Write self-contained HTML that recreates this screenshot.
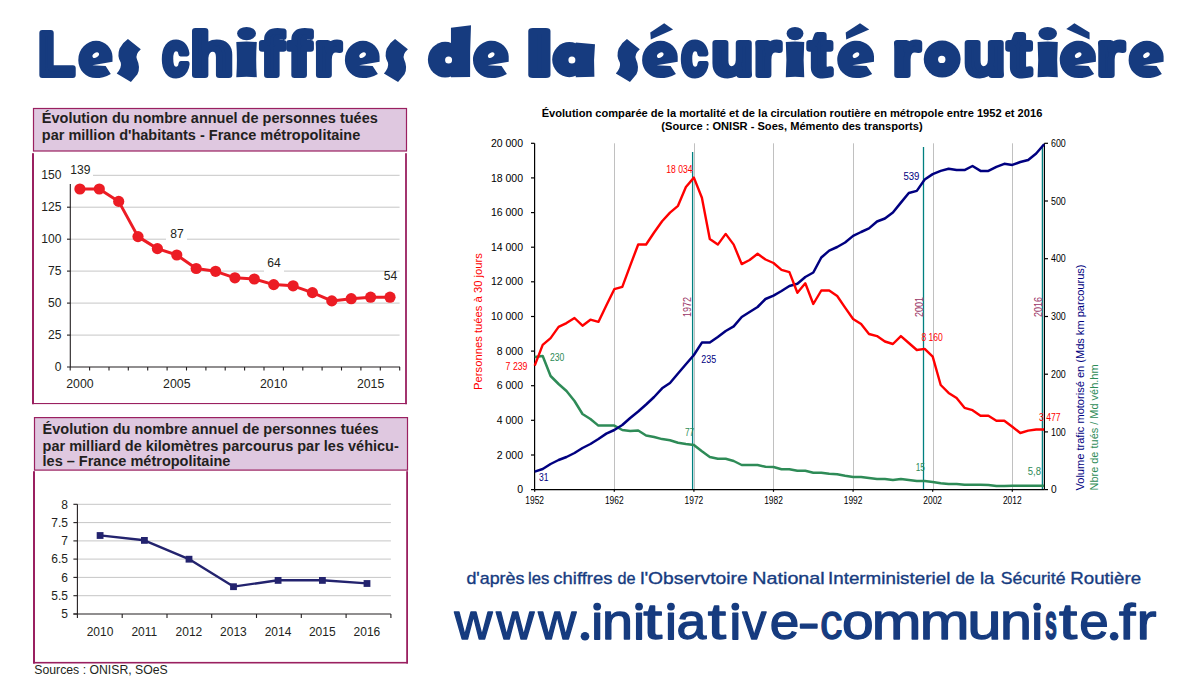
<!DOCTYPE html><html><head><meta charset="utf-8"><style>html,body{margin:0;padding:0;background:#fff;width:1200px;height:700px;overflow:hidden}svg{display:block}</style></head><body>
<svg width="1200" height="700" viewBox="0 0 1200 700" style="font-family:'Liberation Sans',sans-serif">
<rect width="1200" height="700" fill="#fff"/>
<g fill="#163b7f" stroke="#163b7f" stroke-width="6.0" stroke-linejoin="round" font-weight="bold" font-size="62">
<text x="38.20" y="74.50" textLength="36.44" lengthAdjust="spacingAndGlyphs">L</text>
<text x="162.15" y="74.50" textLength="26.44" lengthAdjust="spacingAndGlyphs">c</text>
<text x="190.50" y="74.50" textLength="42.72" lengthAdjust="spacingAndGlyphs">h</text>
<text x="261.07" y="74.50" textLength="22.20" lengthAdjust="spacingAndGlyphs">f</text>
<text x="288.26" y="74.50" textLength="22.31" lengthAdjust="spacingAndGlyphs">f</text>
<text x="314.42" y="74.50" textLength="26.41" lengthAdjust="spacingAndGlyphs">r</text>
<text x="526.36" y="74.50" textLength="26.36" lengthAdjust="spacingAndGlyphs">l</text>
<text x="681.15" y="74.50" textLength="26.44" lengthAdjust="spacingAndGlyphs">c</text>
<text x="711.51" y="74.50" textLength="41.73" lengthAdjust="spacingAndGlyphs">u</text>
<text x="754.00" y="74.50" textLength="26.53" lengthAdjust="spacingAndGlyphs">r</text>
<text x="808.68" y="74.50" textLength="22.63" lengthAdjust="spacingAndGlyphs">t</text>
<text x="892.79" y="74.50" textLength="27.17" lengthAdjust="spacingAndGlyphs">r</text>
<text x="963.80" y="74.50" textLength="41.42" lengthAdjust="spacingAndGlyphs">u</text>
<text x="1007.77" y="74.50" textLength="23.17" lengthAdjust="spacingAndGlyphs">t</text>
<text x="1096.67" y="74.50" textLength="27.29" lengthAdjust="spacingAndGlyphs">r</text>
</g>
<g fill="#163b7f">
<path d="M127.91 39.00 L140.80 49.32 Q135.02 54.48 136.94 59.21 Q140.80 67.38 137.43 74.26 L130.92 82.00 L116.70 73.40 Q122.00 67.38 120.80 62.65 Q116.70 56.20 119.59 48.46 Q122.73 42.44 127.91 39.00 Z"/>
<path d="M395.06 39.00 L407.90 49.32 Q402.14 54.48 404.06 59.21 Q407.90 67.38 404.54 74.26 L398.06 82.00 L383.90 73.40 Q389.18 67.38 387.98 62.65 Q383.90 56.20 386.78 48.46 Q389.90 42.44 395.06 39.00 Z"/>
<path d="M626.96 39.00 L639.80 49.32 Q634.04 54.48 635.96 59.21 Q639.80 67.38 636.44 74.26 L629.96 82.00 L615.80 73.40 Q621.08 67.38 619.88 62.65 Q615.80 56.20 618.68 48.46 Q621.80 42.44 626.96 39.00 Z"/>
<ellipse cx="445.14" cy="59.7" rx="17.24" ry="17.9"/>
<path d="M450.96 27.7 L471.00 25.3 Q469.80 50 470.10 76.9 L450.96 77.3 Z"/>
<ellipse cx="569.32" cy="59.6" rx="17.12" ry="17.6"/>
<path d="M575.74 42.6 L595.00 44.3 Q593.40 60 594.40 76.8 L575.74 77.2 Z"/>
<ellipse cx="942.17" cy="59.1" rx="18.43" ry="18.5"/>
<path d="M112.50 61.63 L92.32 65.17 L105.66 66.10 L110.79 73.91 C105.66 77.26 100.53 78.00 96.08 78.00 C85.82 78.00 78.30 69.82 78.30 60.14 C78.30 48.98 86.85 40.80 96.08 40.80 C105.66 40.80 112.50 48.98 112.50 56.42 Z"/>
<path d="M379.60 61.63 L359.13 65.17 L372.66 66.10 L377.87 73.91 C372.66 77.26 367.45 78.00 362.94 78.00 C352.53 78.00 344.90 69.82 344.90 60.14 C344.90 48.98 353.57 40.80 362.94 40.80 C372.66 40.80 379.60 48.98 379.60 56.42 Z"/>
<path d="M508.70 61.63 L487.64 65.17 L501.56 66.10 L506.91 73.91 C501.56 77.26 496.20 78.00 491.56 78.00 C480.85 78.00 473.00 69.82 473.00 60.14 C473.00 48.98 481.93 40.80 491.56 40.80 C501.56 40.80 508.70 48.98 508.70 56.42 Z"/>
<path d="M677.70 61.63 L656.70 65.17 L670.58 66.10 L675.92 73.91 C670.58 77.26 665.24 78.00 660.61 78.00 C649.93 78.00 642.10 69.82 642.10 60.14 C642.10 48.98 651.00 40.80 660.61 40.80 C670.58 40.80 677.70 48.98 677.70 56.42 Z"/>
<path d="M650.29 32.50 L664.17 23.20 L673.07 29.60 L650.82 39.50Z"/>
<path d="M874.00 61.63 L852.32 65.17 L866.65 66.10 L872.16 73.91 C866.65 77.26 861.14 78.00 856.36 78.00 C845.34 78.00 837.25 69.82 837.25 60.14 C837.25 48.98 846.44 40.80 856.36 40.80 C866.65 40.80 874.00 48.98 874.00 56.42 Z"/>
<path d="M845.70 32.50 L860.03 23.20 L869.22 29.60 L846.25 39.50Z"/>
<path d="M1095.90 61.63 L1074.57 65.17 L1088.67 66.10 L1094.09 73.91 C1088.67 77.26 1083.25 78.00 1078.55 78.00 C1067.70 78.00 1059.75 69.82 1059.75 60.14 C1059.75 48.98 1068.79 40.80 1078.55 40.80 C1088.67 40.80 1095.90 48.98 1095.90 56.42 Z"/>
<path d="M1066.26 29.00 L1074.39 23.20 L1089.57 32.50 L1089.57 39.50Z"/>
<path d="M1163.60 61.63 L1142.95 65.17 L1156.60 66.10 L1161.85 73.91 C1156.60 77.26 1151.35 78.00 1146.80 78.00 C1136.30 78.00 1128.60 69.82 1128.60 60.14 C1128.60 48.98 1137.35 40.80 1146.80 40.80 C1156.60 40.80 1163.60 48.98 1163.60 56.42 Z"/>
<path d="M236.30 42 Q246.55 41 256.80 42 Q255.60 59.5 256.80 77.3 Q246.55 76.3 236.30 77.3 Q237.50 59.5 236.30 42Z"/>
<ellipse cx="246.55" cy="33.6" rx="9.45" ry="6.7"/>
<path d="M785.80 42 Q795.02 41 804.25 42 Q803.05 59.5 804.25 77.3 Q795.02 76.3 785.80 77.3 Q787.00 59.5 785.80 42Z"/>
<ellipse cx="795.02" cy="33.6" rx="8.43" ry="6.7"/>
<path d="M1037.60 42 Q1047.70 41 1057.80 42 Q1056.60 59.5 1057.80 77.3 Q1047.70 76.3 1037.60 77.3 Q1038.80 59.5 1037.60 42Z"/>
<ellipse cx="1047.70" cy="33.6" rx="9.30" ry="6.7"/>
</g>
<g fill="#fff">
<circle cx="448.59" cy="60.10" r="3.50"/>
<circle cx="571.89" cy="60.10" r="3.50"/>
<circle cx="941.77" cy="59.40" r="3.70"/>
<ellipse cx="95.74" cy="55.12" rx="3.6" ry="2.3" transform="rotate(-35 95.74 55.12)"/>
<ellipse cx="362.60" cy="55.12" rx="3.6" ry="2.3" transform="rotate(-35 362.60 55.12)"/>
<ellipse cx="491.21" cy="55.12" rx="3.6" ry="2.3" transform="rotate(-35 491.21 55.12)"/>
<ellipse cx="660.26" cy="55.12" rx="3.6" ry="2.3" transform="rotate(-35 660.26 55.12)"/>
<ellipse cx="855.99" cy="55.12" rx="3.6" ry="2.3" transform="rotate(-35 855.99 55.12)"/>
<ellipse cx="1078.19" cy="55.12" rx="3.6" ry="2.3" transform="rotate(-35 1078.19 55.12)"/>
<ellipse cx="1146.45" cy="55.12" rx="3.6" ry="2.3" transform="rotate(-35 1146.45 55.12)"/>
</g>
<rect x="33.5" y="108.5" width="373" height="42.5" fill="#dfc8e0" stroke="#9a2060" stroke-width="1.2"/>
<g font-weight="bold" font-size="14.5" fill="#231f20">
<text x="41.8" y="123">Évolution du nombre annuel de personnes tuées</text>
<text x="41.8" y="139.6">par million d'habitants - France métropolitaine</text>
</g>
<g fill="#9a2060"><rect x="32" y="153.2" width="2" height="251"/><rect x="32" y="403" width="375" height="1.1"/><rect x="405.1" y="153.2" width="1.8" height="251"/></g>
<g stroke="#c6c6c6" stroke-width="1">
<line x1="70.2" x2="399.6" y1="175.3" y2="175.3"/>
<line x1="70.2" x2="399.6" y1="207.2" y2="207.2"/>
<line x1="70.2" x2="399.6" y1="239.2" y2="239.2"/>
<line x1="70.2" x2="399.6" y1="271.1" y2="271.1"/>
<line x1="70.2" x2="399.6" y1="303.1" y2="303.1"/>
<line x1="70.2" x2="399.6" y1="335.1" y2="335.1"/>
</g>
<g stroke="#231f20" stroke-width="1.1">
<line x1="70.3" x2="70.3" y1="175.3" y2="367"/>
<line x1="67" x2="400" y1="367" y2="367"/>
<line x1="67" x2="70.3" y1="175.3" y2="175.3"/>
<line x1="67" x2="70.3" y1="207.2" y2="207.2"/>
<line x1="67" x2="70.3" y1="239.2" y2="239.2"/>
<line x1="67" x2="70.3" y1="271.1" y2="271.1"/>
<line x1="67" x2="70.3" y1="303.1" y2="303.1"/>
<line x1="67" x2="70.3" y1="335.1" y2="335.1"/>
<line x1="70.2" x2="70.2" y1="367" y2="370.5"/>
<line x1="89.6" x2="89.6" y1="367" y2="370.5"/>
<line x1="109.0" x2="109.0" y1="367" y2="370.5"/>
<line x1="128.3" x2="128.3" y1="367" y2="370.5"/>
<line x1="147.7" x2="147.7" y1="367" y2="370.5"/>
<line x1="167.1" x2="167.1" y1="367" y2="370.5"/>
<line x1="186.5" x2="186.5" y1="367" y2="370.5"/>
<line x1="205.9" x2="205.9" y1="367" y2="370.5"/>
<line x1="225.2" x2="225.2" y1="367" y2="370.5"/>
<line x1="244.6" x2="244.6" y1="367" y2="370.5"/>
<line x1="264.0" x2="264.0" y1="367" y2="370.5"/>
<line x1="283.4" x2="283.4" y1="367" y2="370.5"/>
<line x1="302.8" x2="302.8" y1="367" y2="370.5"/>
<line x1="322.1" x2="322.1" y1="367" y2="370.5"/>
<line x1="341.5" x2="341.5" y1="367" y2="370.5"/>
<line x1="360.9" x2="360.9" y1="367" y2="370.5"/>
<line x1="380.3" x2="380.3" y1="367" y2="370.5"/>
<line x1="399.7" x2="399.7" y1="367" y2="370.5"/>
</g>
<g font-size="12.1" fill="#231f20" text-anchor="end">
<text x="61.5" y="179.4">150</text>
<text x="61.5" y="211.3">125</text>
<text x="61.5" y="243.3">100</text>
<text x="61.5" y="275.2">75</text>
<text x="61.5" y="307.2">50</text>
<text x="61.5" y="339.2">25</text>
<text x="61.5" y="371.1">0</text>
</g>
<g font-size="12.3" fill="#231f20" text-anchor="middle">
<text x="79.9" y="388">2000</text>
<text x="176.8" y="388">2005</text>
<text x="273.7" y="388">2010</text>
<text x="370.6" y="388">2015</text>
</g>
<rect x="66" y="160" width="27" height="24" fill="#fff"/>
<rect x="166" y="225" width="21" height="19" fill="#fff"/>
<rect x="264" y="258" width="20" height="18" fill="#fff"/>
<polyline points="79.9,189.0 99.3,189.0 118.7,201.4 138.0,236.6 157.4,248.6 176.8,255.0 196.2,268.5 215.6,271.3 234.9,277.8 254.3,279.0 273.7,284.6 293.1,285.8 312.4,292.6 331.8,300.9 351.2,298.7 370.6,297.2 390.0,297.2" fill="none" stroke="#ec1c24" stroke-width="3" stroke-linejoin="round"/>
<g fill="#ec1c24">
<circle cx="79.9" cy="189.0" r="5.6"/>
<circle cx="99.3" cy="189.0" r="5.6"/>
<circle cx="118.7" cy="201.4" r="5.6"/>
<circle cx="138.0" cy="236.6" r="5.6"/>
<circle cx="157.4" cy="248.6" r="5.6"/>
<circle cx="176.8" cy="255.0" r="5.6"/>
<circle cx="196.2" cy="268.5" r="5.6"/>
<circle cx="215.6" cy="271.3" r="5.6"/>
<circle cx="234.9" cy="277.8" r="5.6"/>
<circle cx="254.3" cy="279.0" r="5.6"/>
<circle cx="273.7" cy="284.6" r="5.6"/>
<circle cx="293.1" cy="285.8" r="5.6"/>
<circle cx="312.4" cy="292.6" r="5.6"/>
<circle cx="331.8" cy="300.9" r="5.6"/>
<circle cx="351.2" cy="298.7" r="5.6"/>
<circle cx="370.6" cy="297.2" r="5.6"/>
<circle cx="390.0" cy="297.2" r="5.6"/>
</g>
<g font-size="12.1" fill="#231f20" text-anchor="middle">
<text x="80.4" y="173.7">139</text>
<text x="177" y="237.9">87</text>
<text x="274" y="267">64</text>
<text x="390.6" y="279.8">54</text>
</g>
<rect x="34.5" y="417.6" width="373" height="52.5" fill="#dfc8e0" stroke="#9a2060" stroke-width="1.2"/>
<g font-weight="bold" font-size="14.5" fill="#231f20">
<text x="42.6" y="433.5">Évolution du nombre annuel de personnes tuées</text>
<text x="42.6" y="450.5">par milliard de kilomètres parcourus par les véhicu-</text>
<text x="42.6" y="465.8">les – France métropolitaine</text>
</g>
<g fill="#9a2060"><rect x="33" y="471.2" width="2" height="192.3"/><rect x="33" y="661.9" width="375" height="1.6"/><rect x="406.2" y="471.2" width="1.8" height="192.3"/></g>
<g stroke="#c6c6c6" stroke-width="1">
<line x1="77.4" x2="390.9" y1="595.7" y2="595.7"/>
<line x1="77.4" x2="390.9" y1="577.4" y2="577.4"/>
<line x1="77.4" x2="390.9" y1="559.1" y2="559.1"/>
<line x1="77.4" x2="390.9" y1="540.9" y2="540.9"/>
<line x1="77.4" x2="390.9" y1="522.6" y2="522.6"/>
<line x1="77.4" x2="390.9" y1="504.3" y2="504.3"/>
</g>
<g stroke="#231f20" stroke-width="1.1">
<line x1="77.4" x2="77.4" y1="504.3" y2="614"/>
<line x1="73.4" x2="390.9" y1="614" y2="614"/>
<line x1="73.4" x2="77.4" y1="614.0" y2="614.0"/>
<line x1="73.4" x2="77.4" y1="595.7" y2="595.7"/>
<line x1="73.4" x2="77.4" y1="577.4" y2="577.4"/>
<line x1="73.4" x2="77.4" y1="559.1" y2="559.1"/>
<line x1="73.4" x2="77.4" y1="540.9" y2="540.9"/>
<line x1="73.4" x2="77.4" y1="522.6" y2="522.6"/>
<line x1="73.4" x2="77.4" y1="504.3" y2="504.3"/>
<line x1="77.4" x2="77.4" y1="614" y2="618"/>
<line x1="122.2" x2="122.2" y1="614" y2="618"/>
<line x1="167.0" x2="167.0" y1="614" y2="618"/>
<line x1="211.7" x2="211.7" y1="614" y2="618"/>
<line x1="256.5" x2="256.5" y1="614" y2="618"/>
<line x1="301.3" x2="301.3" y1="614" y2="618"/>
<line x1="346.1" x2="346.1" y1="614" y2="618"/>
<line x1="390.9" x2="390.9" y1="614" y2="618"/>
</g>
<g font-size="12" fill="#231f20" text-anchor="end">
<text x="68" y="508.5">8</text>
<text x="68" y="526.8">7.5</text>
<text x="68" y="545.1">7</text>
<text x="68" y="563.3">6.5</text>
<text x="68" y="581.6">6</text>
<text x="68" y="599.9">5.5</text>
<text x="68" y="618.2">5</text>
</g>
<g font-size="12" fill="#231f20" text-anchor="middle">
<text x="100.0" y="635.7">2010</text>
<text x="144.3" y="635.7">2011</text>
<text x="188.9" y="635.7">2012</text>
<text x="233.4" y="635.7">2013</text>
<text x="278.0" y="635.7">2014</text>
<text x="322.3" y="635.7">2015</text>
<text x="366.9" y="635.7">2016</text>
</g>
<polyline points="100.0,535.4 144.3,540.3 188.9,559.1 233.4,586.6 278.0,580.3 322.3,580.3 366.9,583.4" fill="none" stroke="#23236e" stroke-width="2.4" stroke-linejoin="round"/>
<g fill="#23236e">
<rect x="96.7" y="532.1" width="6.8" height="6.8"/>
<rect x="141.0" y="537.0" width="6.8" height="6.8"/>
<rect x="185.6" y="555.8" width="6.8" height="6.8"/>
<rect x="230.1" y="583.3" width="6.8" height="6.8"/>
<rect x="274.7" y="577.0" width="6.8" height="6.8"/>
<rect x="319.0" y="577.0" width="6.8" height="6.8"/>
<rect x="363.6" y="580.1" width="6.8" height="6.8"/>
</g>
<text x="34.3" y="673.8" font-size="12.25" fill="#231f20">Sources : ONISR, SOeS</text>
<g font-weight="bold" font-size="11.1" fill="#000" text-anchor="middle">
<text x="792" y="117">Évolution comparée de la mortalité et de la circulation routière en métropole entre 1952 et 2016</text>
<text x="792" y="130">(Source : ONISR - Soes, Mémento des transports)</text>
</g>
<g stroke="#c0c0c0" stroke-width="1">
<line x1="614.5" x2="614.5" y1="143.3" y2="489.6"/>
<line x1="694.5" x2="694.5" y1="143.3" y2="489.6"/>
<line x1="773.5" x2="773.5" y1="143.3" y2="489.6"/>
<line x1="853.5" x2="853.5" y1="143.3" y2="489.6"/>
<line x1="933.5" x2="933.5" y1="143.3" y2="489.6"/>
<line x1="1012.5" x2="1012.5" y1="143.3" y2="489.6"/>
</g>
<g stroke="#008080" stroke-width="1.3">
<line x1="692.6" x2="692.6" y1="152" y2="489.6"/>
<line x1="923.5" x2="923.5" y1="147" y2="489.6"/>
<line x1="1042.4" x2="1042.4" y1="147" y2="489.6"/>
</g>
<g stroke="#000" stroke-width="1.2">
<line x1="534.6" x2="534.6" y1="143.3" y2="489.6"/>
<line x1="1044.4" x2="1044.4" y1="143.3" y2="489.6"/>
<line x1="534.6" x2="1044.4" y1="489.6" y2="489.6"/>
<line x1="531" x2="534.5" y1="143.3" y2="143.3"/>
<line x1="531" x2="534.5" y1="177.9" y2="177.9"/>
<line x1="531" x2="534.5" y1="212.6" y2="212.6"/>
<line x1="531" x2="534.5" y1="247.2" y2="247.2"/>
<line x1="531" x2="534.5" y1="281.8" y2="281.8"/>
<line x1="531" x2="534.5" y1="316.5" y2="316.5"/>
<line x1="531" x2="534.5" y1="351.1" y2="351.1"/>
<line x1="531" x2="534.5" y1="385.7" y2="385.7"/>
<line x1="531" x2="534.5" y1="420.3" y2="420.3"/>
<line x1="531" x2="534.5" y1="455.0" y2="455.0"/>
<line x1="531" x2="534.5" y1="489.6" y2="489.6"/>
<line x1="1044.4" x2="1048" y1="143.3" y2="143.3"/>
<line x1="1044.4" x2="1048" y1="201.0" y2="201.0"/>
<line x1="1044.4" x2="1048" y1="258.7" y2="258.7"/>
<line x1="1044.4" x2="1048" y1="316.5" y2="316.5"/>
<line x1="1044.4" x2="1048" y1="374.2" y2="374.2"/>
<line x1="1044.4" x2="1048" y1="431.9" y2="431.9"/>
<line x1="1044.4" x2="1048" y1="489.6" y2="489.6"/>
<line x1="534.7" x2="534.7" y1="489.6" y2="491.8"/>
<line x1="614.3" x2="614.3" y1="489.6" y2="491.8"/>
<line x1="693.9" x2="693.9" y1="489.6" y2="491.8"/>
<line x1="773.5" x2="773.5" y1="489.6" y2="491.8"/>
<line x1="853.1" x2="853.1" y1="489.6" y2="491.8"/>
<line x1="932.7" x2="932.7" y1="489.6" y2="491.8"/>
<line x1="1012.3" x2="1012.3" y1="489.6" y2="491.8"/>
</g>
<g font-size="10.5" fill="#000" text-anchor="end">
<text x="523" y="146.9">20 000</text>
<text x="523" y="181.5">18 000</text>
<text x="523" y="216.2">16 000</text>
<text x="523" y="250.8">14 000</text>
<text x="523" y="285.4">12 000</text>
<text x="523" y="320.1">10 000</text>
<text x="523" y="354.7">8 000</text>
<text x="523" y="389.3">6 000</text>
<text x="523" y="423.9">4 000</text>
<text x="523" y="458.6">2 000</text>
<text x="523" y="493.2">0</text>
</g>
<g font-size="10.2" fill="#000">
<text x="1051" y="146.9" textLength="14.8" lengthAdjust="spacingAndGlyphs">600</text>
<text x="1051" y="204.6" textLength="14.8" lengthAdjust="spacingAndGlyphs">500</text>
<text x="1051" y="262.3" textLength="14.8" lengthAdjust="spacingAndGlyphs">400</text>
<text x="1051" y="320.1" textLength="14.8" lengthAdjust="spacingAndGlyphs">300</text>
<text x="1051" y="377.8" textLength="14.8" lengthAdjust="spacingAndGlyphs">200</text>
<text x="1051" y="435.5" textLength="14.8" lengthAdjust="spacingAndGlyphs">100</text>
<text x="1051" y="493.2">0</text>
</g>
<g font-size="10" fill="#000" text-anchor="middle">
<text x="534.7" y="504.2" textLength="18.7" lengthAdjust="spacingAndGlyphs">1952</text>
<text x="614.3" y="504.2" textLength="18.7" lengthAdjust="spacingAndGlyphs">1962</text>
<text x="693.9" y="504.2" textLength="18.7" lengthAdjust="spacingAndGlyphs">1972</text>
<text x="773.5" y="504.2" textLength="18.7" lengthAdjust="spacingAndGlyphs">1982</text>
<text x="853.1" y="504.2" textLength="18.7" lengthAdjust="spacingAndGlyphs">1992</text>
<text x="932.7" y="504.2" textLength="18.7" lengthAdjust="spacingAndGlyphs">2002</text>
<text x="1012.3" y="504.2" textLength="18.7" lengthAdjust="spacingAndGlyphs">2012</text>
</g>
<polyline points="534.7,357.0 542.7,356.0 550.6,376.0 558.6,384.0 566.5,391.0 574.5,401.0 582.5,414.0 590.4,419.0 598.4,425.6 606.3,425.6 614.3,425.6 622.3,430.0 630.2,431.0 638.2,430.5 646.1,435.5 654.1,437.0 662.1,439.1 670.0,440.3 678.0,442.8 685.9,444.0 693.9,445.0 701.9,451.3 709.8,457.0 717.8,458.8 725.7,458.8 733.7,461.0 741.7,465.0 749.6,465.0 757.6,465.0 765.5,466.8 773.5,467.0 781.5,469.2 789.4,469.2 797.4,470.8 805.3,470.8 813.3,472.7 821.3,472.7 829.2,473.8 837.2,474.3 845.1,475.7 853.1,476.9 861.1,476.9 869.0,478.0 877.0,479.0 884.9,479.0 892.9,480.1 900.9,479.0 908.8,480.1 916.8,481.1 924.7,481.1 932.7,482.0 940.7,483.2 948.6,483.9 956.6,483.9 964.5,484.8 972.5,484.8 980.5,484.8 988.4,485.0 996.4,486.0 1004.3,486.0 1012.3,485.7 1020.3,485.7 1028.2,485.7 1036.2,485.7 1044.1,485.7" fill="none" stroke="#2e8b57" stroke-width="2.5" stroke-linejoin="round"/>
<polyline points="534.7,471.6 542.7,469.0 550.6,464.0 558.6,460.0 566.5,457.0 574.5,453.0 582.5,448.0 590.4,444.0 598.4,439.0 606.3,433.6 614.3,430.0 622.3,425.0 630.2,418.0 638.2,411.5 646.1,404.5 654.1,397.0 662.1,388.3 670.0,383.0 678.0,373.5 685.9,364.3 693.9,355.0 701.9,342.6 709.8,342.6 717.8,337.0 725.7,331.0 733.7,326.4 741.7,317.0 749.6,312.0 757.6,307.0 765.5,299.0 773.5,295.6 781.5,291.0 789.4,286.0 797.4,283.8 805.3,277.0 813.3,272.5 821.3,257.5 829.2,250.6 837.2,247.0 845.1,242.5 853.1,235.9 861.1,232.0 869.0,228.4 877.0,221.5 884.9,218.5 892.9,212.5 900.9,202.6 908.8,193.0 916.8,190.9 924.7,179.5 932.7,174.1 940.7,170.9 948.6,168.7 956.6,170.1 964.5,170.1 972.5,166.0 980.5,170.9 988.4,170.9 996.4,166.9 1004.3,163.8 1012.3,164.9 1020.3,162.0 1028.2,160.0 1036.2,153.5 1044.1,144.3" fill="none" stroke="#000080" stroke-width="2.5" stroke-linejoin="round"/>
<polyline points="534.7,365.6 542.7,344.9 550.6,338.1 558.6,326.9 566.5,323.1 574.5,318.0 582.5,325.7 590.4,319.7 598.4,321.9 606.3,305.5 614.3,289.2 622.3,286.8 630.2,265.6 638.2,244.5 646.1,244.5 654.1,232.5 662.1,221.2 670.0,212.6 678.0,205.8 685.9,187.0 693.9,177.6 701.9,197.7 709.8,239.0 717.8,244.6 725.7,233.9 733.7,244.6 741.7,264.1 749.6,260.0 757.6,253.8 765.5,259.5 773.5,263.0 781.5,269.8 789.4,272.1 797.4,292.8 805.3,283.3 813.3,304.0 821.3,290.5 829.2,290.5 837.2,296.0 845.1,307.6 853.1,319.0 861.1,324.1 869.0,334.0 877.0,336.1 884.9,341.5 892.9,344.0 900.9,336.1 908.8,343.0 916.8,350.0 924.7,348.9 932.7,356.7 940.7,385.0 948.6,392.9 956.6,398.1 964.5,407.8 972.5,410.2 980.5,415.7 988.4,415.7 996.4,420.7 1004.3,420.7 1012.3,426.7 1020.3,433.0 1028.2,430.6 1036.2,429.5 1044.1,429.5" fill="none" stroke="#ff0000" stroke-width="2.4" stroke-linejoin="round"/>
<text x="666.3" y="172.5" fill="#ff0000" font-size="10" textLength="26.2" lengthAdjust="spacingAndGlyphs">18 034</text>
<text x="505.6" y="370.0" fill="#ff0000" font-size="10" textLength="21.9" lengthAdjust="spacingAndGlyphs">7 239</text>
<text x="921.4" y="340.6" fill="#ff0000" font-size="10" textLength="21.5" lengthAdjust="spacingAndGlyphs">8 160</text>
<text x="1039.0" y="421.4" fill="#ff0000" font-size="10" textLength="21.6" lengthAdjust="spacingAndGlyphs">3 477</text>
<text x="550.0" y="360.6" fill="#2e8b57" font-size="10" textLength="14.4" lengthAdjust="spacingAndGlyphs">230</text>
<text x="685.0" y="436.0" fill="#2e8b57" font-size="10" textLength="9.2" lengthAdjust="spacingAndGlyphs">77</text>
<text x="915.7" y="471.0" fill="#2e8b57" font-size="10" textLength="9.3" lengthAdjust="spacingAndGlyphs">15</text>
<text x="1027.8" y="475.0" fill="#2e8b57" font-size="10" textLength="13.3" lengthAdjust="spacingAndGlyphs">5,8</text>
<text x="539.0" y="481.0" fill="#000080" font-size="10" textLength="9.5" lengthAdjust="spacingAndGlyphs">31</text>
<text x="701.3" y="362.7" fill="#000080" font-size="10" textLength="14.9" lengthAdjust="spacingAndGlyphs">235</text>
<text x="903.4" y="180.4" fill="#000080" font-size="10" textLength="16.0" lengthAdjust="spacingAndGlyphs">539</text>
<text transform="translate(691.0,317.0) rotate(-90)" font-size="10" fill="#993366" textLength="20" lengthAdjust="spacingAndGlyphs">1972</text>
<text transform="translate(923.0,317.0) rotate(-90)" font-size="10" fill="#993366" textLength="20" lengthAdjust="spacingAndGlyphs">2001</text>
<text transform="translate(1042.2,317.0) rotate(-90)" font-size="10" fill="#993366" textLength="20" lengthAdjust="spacingAndGlyphs">2016</text>
<text transform="translate(481.5,390) rotate(-90)" font-size="11" fill="#ff0000" textLength="137" lengthAdjust="spacingAndGlyphs">Personnes tuées à 30 jours</text>
<text transform="translate(1084.3,490.5) rotate(-90)" font-size="11.5" fill="#000080" textLength="226" lengthAdjust="spacingAndGlyphs">Volume trafic motorisé en (Mds km parcourus)</text>
<text transform="translate(1098,490.5) rotate(-90)" font-size="11.5" fill="#2e8b57" textLength="126" lengthAdjust="spacingAndGlyphs">Nbre de tués / Md véh.hm</text>
<g fill="#163b7f" stroke="#163b7f" stroke-width="0.35">
<text x="466.46" y="584.00" font-size="17.00" textLength="57.96" lengthAdjust="spacingAndGlyphs">d'après</text>
<text x="528.09" y="584.00" font-size="17.00" textLength="21.29" lengthAdjust="spacingAndGlyphs">les</text>
<text x="553.34" y="584.00" font-size="17.00" textLength="59.13" lengthAdjust="spacingAndGlyphs">chiffres</text>
<text x="617.53" y="584.00" font-size="17.00" textLength="18.07" lengthAdjust="spacingAndGlyphs">de</text>
<text x="640.17" y="584.00" font-size="17.00" textLength="107.55" lengthAdjust="spacingAndGlyphs">l'Observtoire</text>
<text x="752.35" y="584.00" font-size="17.00" textLength="72.34" lengthAdjust="spacingAndGlyphs">National</text>
<text x="827.98" y="584.00" font-size="17.00" textLength="122.36" lengthAdjust="spacingAndGlyphs">Interministeriel</text>
<text x="955.49" y="584.00" font-size="17.00" textLength="19.15" lengthAdjust="spacingAndGlyphs">de</text>
<text x="979.96" y="584.00" font-size="17.00" textLength="14.53" lengthAdjust="spacingAndGlyphs">la</text>
<text x="1000.88" y="584.00" font-size="17.00" textLength="64.60" lengthAdjust="spacingAndGlyphs">Sécurité</text>
<text x="1070.28" y="584.00" font-size="17.00" textLength="70.79" lengthAdjust="spacingAndGlyphs">Routière</text>
</g>
<g font-size="50" fill="#163b7f" stroke="#163b7f" stroke-width="1.3" stroke-linejoin="round">
<text x="454.45" y="639.35" textLength="37.90" lengthAdjust="spacingAndGlyphs">w</text>
<text x="496.30" y="639.35" textLength="37.95" lengthAdjust="spacingAndGlyphs">w</text>
<text x="538.20" y="639.35" textLength="37.95" lengthAdjust="spacingAndGlyphs">w</text>
<text x="601.97" y="639.35" textLength="31.01" lengthAdjust="spacingAndGlyphs">n</text>
<text x="643.38" y="639.35" textLength="18.94" lengthAdjust="spacingAndGlyphs">t</text>
<text x="676.50" y="639.35" textLength="29.76" lengthAdjust="spacingAndGlyphs">a</text>
<text x="707.76" y="639.35" textLength="18.29" lengthAdjust="spacingAndGlyphs">t</text>
<text x="742.36" y="639.35" textLength="24.09" lengthAdjust="spacingAndGlyphs">v</text>
<text x="769.67" y="639.35" textLength="29.52" lengthAdjust="spacingAndGlyphs">e</text>
<text x="797.74" y="639.35" textLength="22.02" lengthAdjust="spacingAndGlyphs">-</text>
<text x="820.02" y="639.35" textLength="22.40" lengthAdjust="spacingAndGlyphs">c</text>
<text x="842.01" y="639.35" textLength="31.64" lengthAdjust="spacingAndGlyphs">o</text>
<text x="871.71" y="639.35" textLength="49.67" lengthAdjust="spacingAndGlyphs">m</text>
<text x="919.81" y="639.35" textLength="49.73" lengthAdjust="spacingAndGlyphs">m</text>
<text x="967.24" y="639.35" textLength="34.29" lengthAdjust="spacingAndGlyphs">u</text>
<text x="999.97" y="639.35" textLength="31.86" lengthAdjust="spacingAndGlyphs">n</text>
<text x="1045.05" y="639.20" textLength="11.93" lengthAdjust="spacingAndGlyphs" font-weight="bold" stroke-width="1.6">s</text>
<text x="1059.07" y="639.35" textLength="18.23" lengthAdjust="spacingAndGlyphs">t</text>
<text x="1079.22" y="639.35" textLength="29.46" lengthAdjust="spacingAndGlyphs">e</text>
<text x="1119.03" y="639.35" textLength="16.36" lengthAdjust="spacingAndGlyphs">f</text>
<text x="1136.49" y="639.35" textLength="19.98" lengthAdjust="spacingAndGlyphs">r</text>
</g>
<g fill="#163b7f">
<circle cx="585.00" cy="636.3" r="4.3"/>
<rect x="594.07" y="612.5" width="6.2" height="27.5" rx="0.8"/>
<circle cx="597.17" cy="606.6" r="3.9"/>
<rect x="635.95" y="612.5" width="6.2" height="27.5" rx="0.8"/>
<circle cx="639.05" cy="606.6" r="3.9"/>
<rect x="667.85" y="612.5" width="6.2" height="27.5" rx="0.8"/>
<circle cx="670.95" cy="606.6" r="3.9"/>
<rect x="732.23" y="612.5" width="6.2" height="27.5" rx="0.8"/>
<circle cx="735.33" cy="606.6" r="3.9"/>
<rect x="1034.08" y="612.5" width="6.2" height="27.5" rx="0.8"/>
<circle cx="1037.17" cy="606.6" r="3.9"/>
<circle cx="1114.15" cy="636.3" r="4.3"/>
</g>
</svg></body></html>
